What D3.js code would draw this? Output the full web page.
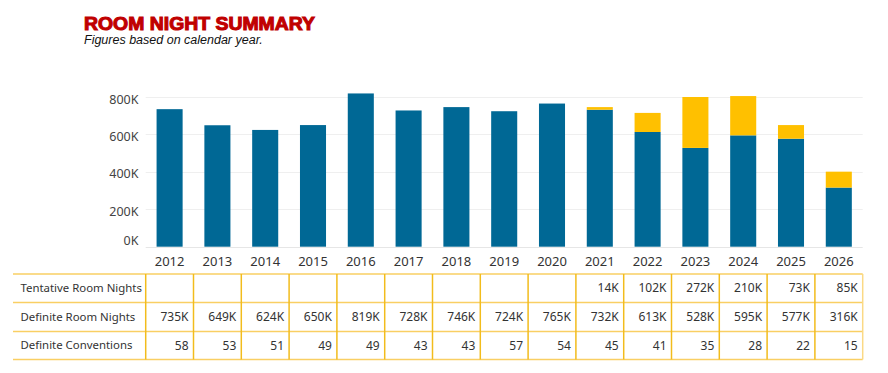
<!DOCTYPE html>
<html>
<head>
<meta charset="utf-8">
<script src="https://cdn.jsdelivr.net/npm/d3@7"></script>
<style>
  body { margin: 0; background: #fff; }
  svg { display: block; }
</style>
</head>
<body>
<script>
var years = ["2012","2013","2014","2015","2016","2017","2018","2019","2020","2021","2022","2023","2024","2025","2026"];
var definite = [735, 649, 624, 650, 819, 728, 746, 724, 765, 732, 613, 528, 595, 577, 316];
var tentative = [null, null, null, null, null, null, null, null, null, 14, 102, 272, 210, 73, 85];
var conventions = [58, 53, 51, 49, 49, 43, 43, 57, 54, 45, 41, 35, 28, 22, 15];
var yTicks = [0, 200, 400, 600, 800];
var rowLabels = ["Tentative Room Nights", "Definite Room Nights", "Definite Conventions"];

var width = 888, height = 373;
var font = "'Noto Sans', sans-serif";

var svg = d3.select("body").append("svg")
  .attr("width", width)
  .attr("height", height);

// title block
svg.append("text")
  .attr("x", 84).attr("y", 29.5)
  .attr("fill", "#c00000")
  .attr("stroke", "#c00000").attr("stroke-width", 1)
  .style("font-family", "'Liberation Sans', Arial, sans-serif")
  .style("font-weight", "bold")
  .style("font-size", "17.5px")
  .attr("textLength", 231)
  .attr("lengthAdjust", "spacingAndGlyphs")
  .text("ROOM NIGHT SUMMARY");

svg.append("text")
  .attr("x", 84).attr("y", 44)
  .attr("fill", "#111")
  .style("font-family", "'Liberation Sans', Arial, sans-serif")
  .style("font-style", "italic")
  .style("font-size", "12.5px")
  .text("Figures based on calendar year.");

var x = d3.scaleBand()
  .domain(years)
  .range([145.7, 862.7])
  .paddingInner(0.455)
  .paddingOuter(0.2275);

var y = d3.scaleLinear()
  .domain([0, 800])
  .range([246.7, 97]);

// gridlines
svg.append("g").selectAll("line")
  .data(yTicks)
  .enter().append("line")
  .attr("x1", 145.7).attr("x2", 862.7)
  .attr("y1", function(d){ return Math.round(y(d)) + 0.5; })
  .attr("y2", function(d){ return Math.round(y(d)) + 0.5; })
  .attr("stroke", function(d){ return d === 0 ? "#e6e6e6" : "#efefef"; })
  .attr("stroke-width", 1);

// y axis
var yAxis = d3.axisLeft(y)
  .tickValues(yTicks)
  .tickSize(0)
  .tickPadding(0)
  .tickFormat(function(d){ return d + "K"; });

var yg = svg.append("g")
  .attr("transform", "translate(138.5,0)")
  .call(yAxis);
yg.select(".domain").remove();
yg.selectAll("text")
  .attr("fill", "#444")
  .attr("y", function(d){ return d === 0 ? -6.5 : 2; })
  .style("font-family", font)
  .style("font-size", "12.5px");

// bars
var stacked = years.map(function(yr, i){
  return { year: yr, def: definite[i], ten: tentative[i] || 0 };
});

svg.append("g").selectAll("rect.def")
  .data(stacked)
  .enter().append("rect")
  .attr("class", "def")
  .attr("x", function(d){ return x(d.year); })
  .attr("width", x.bandwidth())
  .attr("y", function(d){ return y(d.def); })
  .attr("height", function(d){ return y(0) - y(d.def); })
  .attr("fill", "#006895");

svg.append("g").selectAll("rect.ten")
  .data(stacked.filter(function(d){ return d.ten > 0; }))
  .enter().append("rect")
  .attr("class", "ten")
  .attr("x", function(d){ return x(d.year); })
  .attr("width", x.bandwidth())
  .attr("y", function(d){ return y(d.def + d.ten); })
  .attr("height", function(d){ return y(d.def) - y(d.def + d.ten); })
  .attr("fill", "#ffc000");

// x axis
var xAxis = d3.axisBottom(x).tickSize(0).tickPadding(0);
var xg = svg.append("g")
  .attr("transform", "translate(0,256.5)")
  .call(xAxis);
xg.select(".domain").remove();
xg.selectAll("text")
  .attr("fill", "#333")
  .attr("dy", "0.71em")
  .style("font-family", font)
  .style("font-size", "13px");

// table
var rowTops = [274, 302.5, 331.5, 359.5];
var tableLeft = 13, tableRight = 862.7;
var step = x.step();
var colEdges = years.map(function(yr){ return x(yr) - (step - x.bandwidth()) / 2; });

var table = svg.append("g");

table.selectAll("line.h")
  .data(rowTops)
  .enter().append("line")
  .attr("x1", tableLeft).attr("x2", tableRight)
  .attr("y1", function(d){ return d; })
  .attr("y2", function(d){ return d; })
  .attr("stroke", "#f9cf63")
  .attr("stroke-width", 1.5);

var vEdges = colEdges.concat([tableRight]);
table.selectAll("line.v")
  .data(vEdges)
  .enter().append("line")
  .attr("x1", function(d){ return d; })
  .attr("x2", function(d){ return d; })
  .attr("y1", rowTops[0]).attr("y2", rowTops[3])
  .attr("stroke", function(d, i){ return i === vEdges.length - 1 ? "#fbd985" : "#f2bc1c"; })
  .attr("stroke-width", 1.5);

table.selectAll("text.label")
  .data(rowLabels)
  .enter().append("text")
  .attr("x", 20.5)
  .attr("y", function(d, i){ return (rowTops[i] + rowTops[i + 1]) / 2; })
  .attr("dy", "0.35em")
  .attr("fill", "#333")
  .style("font-family", font)
  .style("font-size", "11.4px")
  .text(function(d){ return d; });

var rows = [
  tentative.map(function(v){ return v == null ? "" : v + "K"; }),
  definite.map(function(v){ return v + "K"; }),
  conventions.map(function(v){ return String(v); })
];

rows.forEach(function(vals, r){
  table.selectAll("text.r" + r)
    .data(vals)
    .enter().append("text")
    .attr("class", "r" + r)
    .attr("x", function(d, i){ return colEdges[i] + step - 5; })
    .attr("y", (rowTops[r] + rowTops[r + 1]) / 2)
    .attr("dy", "0.35em")
    .attr("text-anchor", "end")
    .attr("fill", "#333")
    .style("font-family", font)
    .style("font-size", "12px")
    .text(function(d){ return d; });
});
</script>
</body>
</html>
